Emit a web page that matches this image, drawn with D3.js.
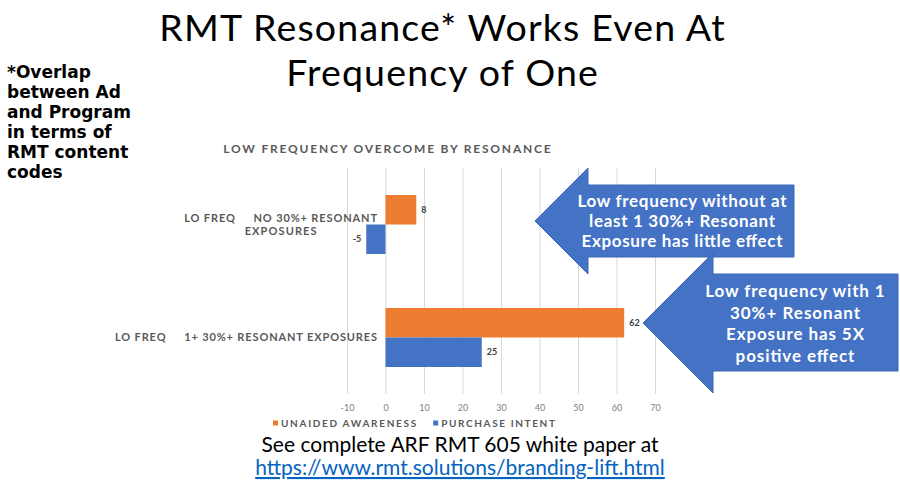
<!DOCTYPE html>
<html>
<head>
<meta charset="utf-8">
<script src="https://cdn.jsdelivr.net/npm/d3@7"></script>
<style>
  body { margin: 0; background: #fff; }
  svg { display: block; }
</style>
</head>
<body>
<svg id="chart" width="900" height="487"></svg>
<script>
// 데이터
const categories = ["LO FREQ     NO 30%+ RESONANT\nEXPOSURES", "LO FREQ     1+ 30%+ RESONANT EXPOSURES"];
const seriesNames = ["UNAIDED AWARENESS", "PURCHASE INTENT"];
const unaidedAwareness = [8, 62];
const purchaseIntent = [-5, 25];
const xTicks = [-10, 0, 10, 20, 30, 40, 50, 60, 70];
const seriesColors = ["#ED7D31", "#4472C4"];

const titleLines = ["RMT Resonance* Works Even At", "Frequency of One"];
const noteLines = ["*Overlap", "between Ad", "and Program", "in terms of", "RMT content", "codes"];
const arrow1Lines = ["Low frequency without at", "least 1 30%+ Resonant", "Exposure has little effect"];
const arrow2Lines = ["Low frequency with 1", "30%+ Resonant", "Exposure has 5X", "positive effect"];
const footLine = "See complete ARF RMT 605 white paper at";
const footLink = "https://www.rmt.solutions/branding-lift.html";

const svg = d3.select("#chart");
const FONT = "Lato, 'Open Sans', sans-serif";

// Gill Sans 대용 - 글자 폭을 넓혀서 맞춤
function stretch(sel, ratio) {
  sel.each(function() {
    const w = this.getComputedTextLength();
    d3.select(this).attr("textLength", w * ratio).attr("lengthAdjust", "spacing");
  });
}

// 제목
svg.append("g").selectAll("text")
  .data(titleLines)
  .join("text")
  .attr("x", 442)
  .attr("y", (d, i) => 41 + i * 45)
  .attr("text-anchor", "middle")
  .style("font-family", FONT)
  .style("font-size", "37.5px")
  .style("fill", "#000")
  .text(d => d)
  .call(stretch, 1.06);

// 왼쪽 주석
svg.append("g").selectAll("text")
  .data(noteLines)
  .join("text")
  .attr("x", 7)
  .attr("y", (d, i) => 78 + i * 20)
  .style("font-family", "'DejaVu Sans', Verdana, sans-serif")
  .style("font-weight", "bold")
  .style("font-size", "17px")
  .style("fill", "#000")
  .text(d => d);

// 차트 제목
svg.append("text")
  .attr("x", 387)
  .attr("y", 153)
  .attr("text-anchor", "middle")
  .style("font-family", FONT)
  .style("font-weight", "bold")
  .style("font-size", "12px")
  .style("fill", "#595959")
  .text("LOW FREQUENCY OVERCOME BY RESONANCE")
  .call(stretch, 1.23);

// 스케일
const x = d3.scaleLinear().domain([-10, 70]).range([347, 655]);
const y = d3.scaleBand().domain(categories).range([168, 394])
  .paddingInner(0.478).paddingOuter(0.239);
const ySub = d3.scaleBand().domain(seriesNames).range([0, y.bandwidth()]);
const color = d3.scaleOrdinal().domain(seriesNames).range(seriesColors);

// 그리드
const grid = svg.append("g")
  .attr("transform", "translate(0,394)")
  .call(d3.axisBottom(x).tickValues(xTicks).tickSize(-226).tickFormat(d => d));
grid.select(".domain").remove();
grid.selectAll(".tick line").attr("stroke", "#d9d9d9");
grid.selectAll(".tick text")
  .attr("y", 11)
  .style("font-family", FONT)
  .style("font-size", "9px")
  .style("fill", "#7f7f7f");

// 막대
const rows = categories.map((c, i) => ({
  category: c,
  values: [
    { series: seriesNames[0], value: unaidedAwareness[i] },
    { series: seriesNames[1], value: purchaseIntent[i] }
  ]
}));

const groups = svg.append("g").selectAll("g")
  .data(rows)
  .join("g")
  .attr("transform", d => `translate(0,${y(d.category)})`);

groups.selectAll("rect")
  .data(d => d.values)
  .join("rect")
  .attr("x", d => x(Math.min(0, d.value)))
  .attr("y", d => ySub(d.series))
  .attr("width", d => Math.abs(x(d.value) - x(0)))
  .attr("height", ySub.bandwidth())
  .attr("fill", d => color(d.series));

groups.selectAll("text")
  .data(d => d.values)
  .join("text")
  .attr("x", d => d.value < 0 ? x(d.value) - 5 : x(d.value) + 5)
  .attr("y", d => ySub(d.series) + ySub.bandwidth() / 2)
  .attr("dy", "0.35em")
  .attr("text-anchor", d => d.value < 0 ? "end" : "start")
  .style("font-family", FONT)
  .style("font-weight", "bold")
  .style("font-size", "9px")
  .style("fill", "#404040")
  .text(d => d.value);

// 카테고리 라벨
const catLabels = svg.append("g").selectAll("text")
  .data(categories)
  .join("text")
  .style("font-family", FONT)
  .style("font-weight", "bold")
  .style("font-size", "11px")
  .style("fill", "#595959")
  .style("white-space", "pre")
  .attr("xml:space", "preserve");

catLabels.each(function(c) {
  const lines = c.split("\n");
  const t = d3.select(this);
  const cy = y(c) + y.bandwidth() / 2;
  const lineH = 13;
  lines.forEach((ln, i) => {
    t.append("tspan")
      .attr("y", cy + (i - (lines.length - 1) / 2) * lineH)
      .attr("dy", "0.35em")
      .text(ln);
  });
  const spans = t.selectAll("tspan");
  spans.call(stretch, 1.14);
  const w = d3.max(spans.nodes(), n => +n.getAttribute("textLength"));
  t.attr("text-anchor", "middle");
  spans.attr("x", 377 - w / 2);
});

// 범례
const legend = svg.append("g").attr("transform", "translate(273,427)");
let lx = 0;
seriesNames.forEach((s, i) => {
  legend.append("rect")
    .attr("x", lx).attr("y", -6.5)
    .attr("width", 5).attr("height", 5)
    .attr("fill", color(s));
  const t = legend.append("text")
    .attr("x", lx + 8)
    .attr("y", 0)
    .style("font-family", FONT)
    .style("font-weight", "bold")
    .style("font-size", "10px")
    .style("fill", "#595959")
    .text(s)
    .call(stretch, 1.25);
  lx += 8 + +t.attr("textLength") + 17;
});

// 화살표 (왼쪽 방향)
function leftArrow(tipX, tipY, headX, headTop, headBottom, bodyTop, bodyBottom, rightX) {
  return d3.line()([
    [tipX, tipY], [headX, headTop], [headX, bodyTop], [rightX, bodyTop],
    [rightX, bodyBottom], [headX, bodyBottom], [headX, headBottom]
  ]) + "Z";
}

svg.append("path")
  .attr("d", leftArrow(535, 221, 588, 168, 274, 185, 257, 794))
  .attr("fill", "#4472C4")
  .attr("stroke", "#3c67b5")
  .attr("stroke-width", 1);

svg.append("g").selectAll("text")
  .data(arrow1Lines)
  .join("text")
  .attr("x", 682)
  .attr("y", (d, i) => 207 + i * 20)
  .attr("text-anchor", "middle")
  .style("font-family", FONT)
  .style("font-weight", "bold")
  .style("font-size", "17px")
  .style("fill", "#fff")
  .text(d => d)
  .call(stretch, 1.08);

svg.append("path")
  .attr("d", leftArrow(643, 323, 713, 253, 393, 274, 371, 898))
  .attr("fill", "#4472C4")
  .attr("stroke", "#3c67b5")
  .attr("stroke-width", 1);

svg.append("g").selectAll("text")
  .data(arrow2Lines)
  .join("text")
  .attr("x", 795)
  .attr("y", (d, i) => 297 + i * 21.5)
  .attr("text-anchor", "middle")
  .style("font-family", FONT)
  .style("font-weight", "bold")
  .style("font-size", "17px")
  .style("fill", "#fff")
  .text(d => d)
  .call(stretch, 1.1);

// 하단 문구
svg.append("text")
  .attr("x", 460)
  .attr("y", 452)
  .attr("text-anchor", "middle")
  .style("font-family", FONT)
  .style("font-size", "21px")
  .style("fill", "#000")
  .text(footLine);

svg.append("text")
  .attr("x", 460)
  .attr("y", 475)
  .attr("text-anchor", "middle")
  .style("font-family", FONT)
  .style("font-size", "21px")
  .style("fill", "#0563C1")
  .style("text-decoration", "underline")
  .text(footLink);
</script>
</body>
</html>
